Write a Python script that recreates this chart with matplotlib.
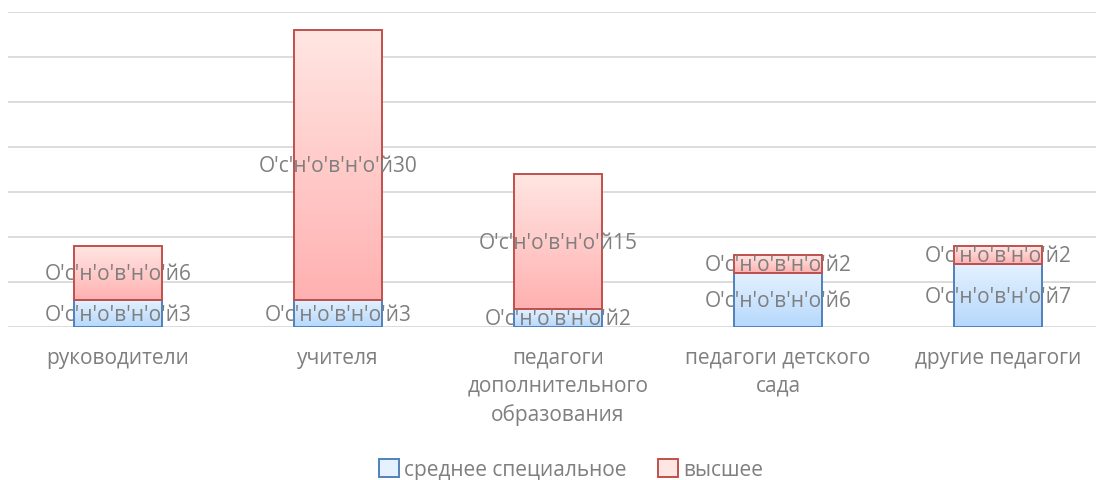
import matplotlib

matplotlib.use("Agg")

import matplotlib.pyplot as plt
import numpy as np
from matplotlib.colors import LinearSegmentedColormap
from matplotlib.patches import Rectangle

plt.rcParams["font.family"] = ["Open Sans", "DejaVu Sans"]

categories = ["руководители", "учителя", "педагоги\nдополнительного\nобразования",
              "педагоги детского\nсада", "другие педагоги"]
series_names = ["среднее специальное", "высшее"]
secondary = [3, 3, 2, 6, 7]
higher = [6, 30, 15, 2, 2]
label_prefix = "O'с'н'о'в'н'о'й"

TEXT = "#7f7f7f"
GRID = "#d9d9d9"
EDGES = ["#4f81bd", "#c0504d"]
GRADS = [("#e4f1ff", "#b5d8fc"), ("#ffe6e2", "#ffb1b1")]
BAR_W = 0.4
FS = 15


def gradient_bar(ax, x, bottom, height, top_col, bot_col, edge):
    cmap = LinearSegmentedColormap.from_list("g", [bot_col, top_col])
    grad = np.linspace(0, 1, 256).reshape(-1, 1)
    left = x - BAR_W / 2
    im = ax.imshow(grad, cmap=cmap, origin="lower", aspect="auto",
                   extent=(left, left + BAR_W, bottom, bottom + height), zorder=2)
    rect = Rectangle((left, bottom), BAR_W, height, facecolor="none",
                     edgecolor=edge, linewidth=1.4, zorder=3)
    ax.add_patch(rect)
    im.set_clip_path(rect)


fig = plt.figure(figsize=(10.96, 4.80), dpi=100)
ax = fig.add_axes([8 / 1096, 153 / 480, 1100 / 1096, 315 / 480])

x = np.arange(len(categories))
bottoms = np.zeros(len(categories))
for s, vals in enumerate([secondary, higher]):
    for i, v in enumerate(vals):
        gradient_bar(ax, x[i], bottoms[i], v, GRADS[s][0], GRADS[s][1], EDGES[s])
        ax.text(x[i], bottoms[i] + v / 2 - 0.2, f"{label_prefix}{v}", ha="center",
                va="center", fontsize=FS, color=TEXT, zorder=4)
    bottoms += np.array(vals)

ax.set_xlim(-0.5, len(categories) - 0.5)
ax.set_ylim(0, 35)
ax.set_yticks(np.arange(0, 36, 5))
ax.yaxis.grid(True, color=GRID, linewidth=1.3)
ax.set_axisbelow(True)
ax.tick_params(axis="y", left=False, labelleft=False)
ax.tick_params(axis="x", length=0, pad=15, labelsize=FS, labelcolor=TEXT)
ax.set_xticks(x)
ax.set_xticklabels(categories, linespacing=1.42, va="top")
for side in ["top", "right", "left", "bottom"]:
    ax.spines[side].set_visible(False)

handles = [Rectangle((0, 0), 1, 1, facecolor=GRADS[i][0], edgecolor=EDGES[i], linewidth=1.4)
           for i in range(2)]
fig.legend(handles, series_names, loc="center", bbox_to_anchor=(571 / 1096, 1 - 470 / 480),
           ncol=2, frameon=False, fontsize=FS, labelcolor=TEXT, handlelength=0.95,
           handleheight=0.95, handletextpad=0.25, columnspacing=1.5)

fig.savefig("out.png", dpi=100)
